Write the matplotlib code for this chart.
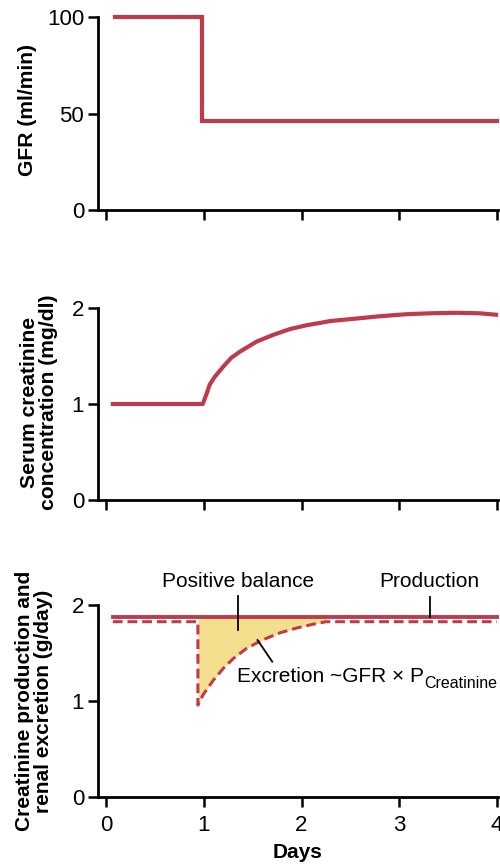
import matplotlib
matplotlib.use("Agg")
import matplotlib.pyplot as plt

plt.rcParams['font.family'] = ['Liberation Sans', 'DejaVu Sans']

RED = '#bf3b4b'
YELLOW = '#f3df8e'

# Panel 1: GFR
gfr_days = [0.09, 0.98, 0.98, 4.0]
gfr_vals = [100, 100, 46, 46]

# Panel 2: serum creatinine
serum_days = [0.07, 0.99, 1.03, 1.06, 1.11, 1.20, 1.28, 1.37, 1.54, 1.71,
              1.88, 2.05, 2.30, 2.56, 2.81, 3.07, 3.32, 3.58, 3.82, 3.99]
serum_vals = [1.0, 1.0, 1.11, 1.20, 1.28, 1.39, 1.48, 1.545, 1.65, 1.72,
              1.78, 1.82, 1.865, 1.89, 1.915, 1.935, 1.945, 1.95, 1.945, 1.93]

# Panel 3: production & excretion
prod_days = [0.07, 4.0]
prod_vals = [1.875, 1.875]
excr_days = [0.07, 0.94, 0.94, 0.99, 1.10, 1.20, 1.30, 1.44, 1.61, 1.78, 1.95,
             2.12, 2.25, 4.0]
excr_vals = [1.826, 1.826, 0.958, 1.06, 1.22, 1.34, 1.44, 1.55, 1.64, 1.71, 1.76,
             1.80, 1.826, 1.826]

xticks = [0, 1, 2, 3, 4]

fig = plt.figure(figsize=(5, 8.68), dpi=100)
W, H = 500, 868
def axrect(left, top, right, bottom):
    return [left / W, 1 - bottom / H, (right - left) / W, (bottom - top) / H]

ax1 = fig.add_axes(axrect(98, 17, 498, 210))
ax2 = fig.add_axes(axrect(98, 308, 498, 500))
ax3 = fig.add_axes(axrect(98, 605, 498, 797))

for ax in (ax1, ax2, ax3):
    ax.set_xlim(-0.082, 4.01)
    for s in ('top', 'right'):
        ax.spines[s].set_visible(False)
    for s in ('left', 'bottom'):
        ax.spines[s].set_linewidth(2.0)
    ax.tick_params(axis='both', direction='out', length=7, width=1.8,
                   labelsize=16, pad=3)
    ax.set_xticks(xticks)
    ax.patch.set_alpha(0)

LBL = 15.2

ax1.plot(gfr_days, gfr_vals, color=RED, lw=3.0, solid_joinstyle='miter', clip_on=False)
ax1.set_ylim(0, 100)
ax1.set_yticks([0, 50, 100])
ax1.set_xticklabels([])
ax1.set_ylabel('GFR (ml/min)', fontsize=LBL, fontweight='bold')
ax1.yaxis.set_label_coords(-0.1525, 0.52)

ax2.plot(serum_days, serum_vals, color=RED, lw=3.0, clip_on=False)
ax2.set_ylim(0, 2)
ax2.set_yticks([0, 1, 2])
ax2.set_xticklabels([])
ax2.set_ylabel('Serum creatinine\nconcentration (mg/dl)', fontsize=LBL,
               fontweight='bold', linespacing=1.0)
ax2.yaxis.set_label_coords(-0.10, 0.51)

ax3.fill_between(excr_days[2:13], excr_vals[2:13], prod_vals[0], color=YELLOW, lw=0)
ax3.plot(prod_days, prod_vals, color=RED, lw=2.8, clip_on=False)
ax3.plot(excr_days, excr_vals, color=RED, lw=2.2, dashes=(3.2, 1.6), clip_on=False)
ax3.set_ylim(0, 2)
ax3.set_yticks([0, 1, 2])
ax3.set_xticklabels([str(t) for t in xticks])
ax3.tick_params(axis='x', pad=6)
ax3.set_ylabel('Creatinine production and\nrenal excretion (g/day)', fontsize=15,
               fontweight='bold', linespacing=1.0)
ax3.yaxis.set_label_coords(-0.1125, 0.50)
ax3.set_xlabel('Days', fontsize=15, fontweight='bold', labelpad=5)

# annotations
ANN = 15
ax3.text(1.35, 2.24, 'Positive balance', fontsize=ANN, ha='center', va='center')
ax3.plot([1.35, 1.35], [2.09, 1.74], color='black', lw=1.3, clip_on=False)
ax3.text(3.31, 2.24, 'Production', fontsize=ANN, ha='center', va='center')
ax3.plot([3.31, 3.31], [2.08, 1.875], color='black', lw=1.3, clip_on=False)
ax3.plot([1.55, 1.70], [1.635, 1.41], color='black', lw=1.3)
main = ax3.text(1.34, 1.25, 'Excretion ~GFR \u00d7 P', fontsize=ANN,
                ha='left', va='center')
fig.canvas.draw()
bb = main.get_window_extent()
x_end, _ = ax3.transData.inverted().transform((bb.x1, bb.y0))
ax3.text(x_end, 1.18, 'Creatinine', fontsize=11.5, ha='left', va='center',
         clip_on=False)

fig.savefig('out.png', dpi=100)
